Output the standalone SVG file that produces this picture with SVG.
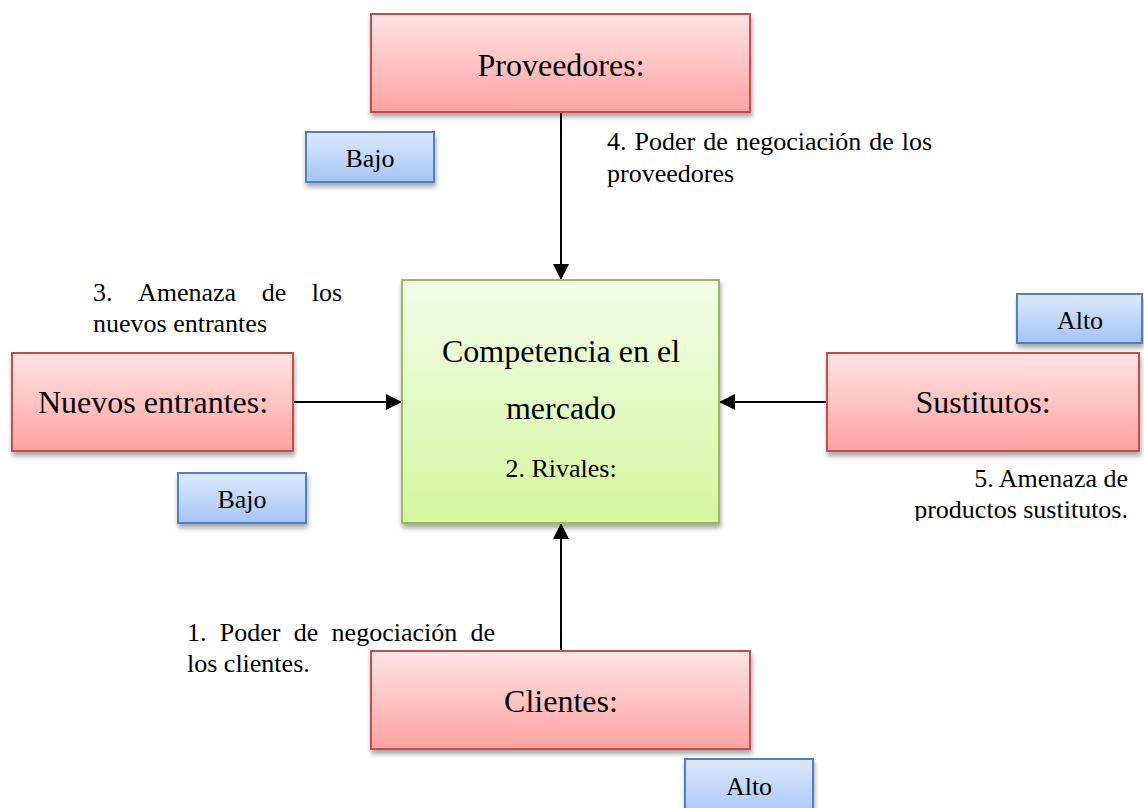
<svg xmlns="http://www.w3.org/2000/svg" width="1144" height="808" viewBox="0 0 1144 808">
<style>
text{font-family:"Liberation Serif","Times New Roman",serif;fill:#000}
.big{font-size:32px;text-anchor:middle}
.mid{font-size:26px;text-anchor:middle}
.lbl{font-size:26px}
.red{fill:url(#gRed);stroke:#c0504d;stroke-width:2}
.green{fill:url(#gGreen);stroke:#9bbb59;stroke-width:2}
.blue{fill:url(#gBlue);stroke:#4f81bd;stroke-width:2}
.conn{stroke:#000;stroke-width:2;fill:none;marker-end:url(#arr)}
</style>
<defs>
<linearGradient id="gRed" x1="0" y1="0" x2="0" y2="1"><stop offset="0" stop-color="#ffe4e4"/><stop offset="1" stop-color="#ffa2a2"/></linearGradient>
<linearGradient id="gGreen" x1="0" y1="0" x2="0" y2="1"><stop offset="0" stop-color="#f3fde9"/><stop offset="1" stop-color="#d6f6a0"/></linearGradient>
<linearGradient id="gBlue" x1="0" y1="0" x2="0" y2="1"><stop offset="0" stop-color="#dde9fc"/><stop offset="1" stop-color="#a5c5f6"/></linearGradient>
<filter id="sh" x="-10%" y="-10%" width="125%" height="135%"><feDropShadow dx="1" dy="4" stdDeviation="2.5" flood-color="#000" flood-opacity="0.35"/></filter>
<marker id="arr" markerWidth="16" markerHeight="16" viewBox="0 0 16 16" refX="16" refY="8" orient="auto" markerUnits="userSpaceOnUse"><path d="M0,0 L16,8 L0,16 Z" fill="#000"/></marker>
<clipPath id="clipBottom"><rect x="0" y="0" width="1144" height="521"/></clipPath>
</defs>

<g id="connectors">
<line class="conn" x1="561" y1="112" x2="561" y2="280"/>
<line class="conn" x1="293" y1="402" x2="402" y2="402"/>
<line class="conn" x1="827" y1="402" x2="719" y2="402"/>
<line class="conn" x1="561" y1="651" x2="561" y2="523"/>
</g>

<g id="proveedores">
<rect class="red" x="371" y="14" width="379" height="98" filter="url(#sh)"/>
<text class="big" x="561" y="76">Proveedores:</text>
</g>

<g id="bajo-proveedores">
<rect class="blue" x="306" y="132" width="128" height="50" filter="url(#sh)"/>
<text class="mid" x="370" y="167">Bajo</text>
</g>

<g id="label-4">
<text class="lbl" y="150"><tspan x="607">4.</tspan><tspan x="634.5">Poder</tspan><tspan x="703.2">de</tspan><tspan x="735.7">negociación</tspan><tspan x="869.3">de</tspan><tspan x="901.8">los</tspan></text>
<text class="lbl" x="607" y="182">proveedores</text>
</g>

<g id="competencia">
<rect class="green" x="402" y="280" width="317" height="243" filter="url(#sh)"/>
<text class="big" x="561" y="362">Competencia en el</text>
<text class="big" x="561" y="419">mercado</text>
<text class="mid" x="561" y="477">2. Rivales:</text>
</g>

<g id="label-3">
<text class="lbl" y="301"><tspan x="93">3.</tspan><tspan x="138">Amenaza</tspan><tspan x="261.7">de</tspan><tspan x="311.7">los</tspan></text>
<text class="lbl" x="93" y="332">nuevos entrantes</text>
</g>

<g id="nuevos-entrantes">
<rect class="red" x="12" y="353" width="281" height="98" filter="url(#sh)"/>
<text class="big" x="153" y="413">Nuevos entrantes:</text>
</g>

<g id="bajo-nuevos">
<rect class="blue" x="178" y="473" width="128" height="50" filter="url(#sh)"/>
<text class="mid" x="242" y="508">Bajo</text>
</g>

<g id="alto-sustitutos">
<rect class="blue" x="1017" y="294" width="125" height="49" filter="url(#sh)"/>
<text class="mid" x="1080" y="329">Alto</text>
</g>

<g id="sustitutos">
<rect class="red" x="827" y="353" width="312" height="98" filter="url(#sh)"/>
<text class="big" x="983" y="413">Sustitutos:</text>
</g>

<g id="label-5" clip-path="url(#clipBottom)">
<text class="lbl" x="1128" y="487" text-anchor="end">5. Amenaza de</text>
<text class="lbl" x="1128" y="518" text-anchor="end">productos sustitutos.</text>
</g>

<g id="label-1">
<text class="lbl" y="641"><tspan x="187">1.</tspan><tspan x="219.8">Poder</tspan><tspan x="293.8">de</tspan><tspan x="331.6">negociación</tspan><tspan x="470.5">de</tspan></text>
<text class="lbl" x="187" y="672">los clientes.</text>
</g>

<g id="clientes">
<rect class="red" x="371" y="651" width="379" height="98" filter="url(#sh)"/>
<text class="big" x="561" y="712">Clientes:</text>
</g>

<g id="alto-clientes">
<rect class="blue" x="685" y="759" width="128" height="60" filter="url(#sh)"/>
<text class="mid" x="749" y="795">Alto</text>
</g>
</svg>
